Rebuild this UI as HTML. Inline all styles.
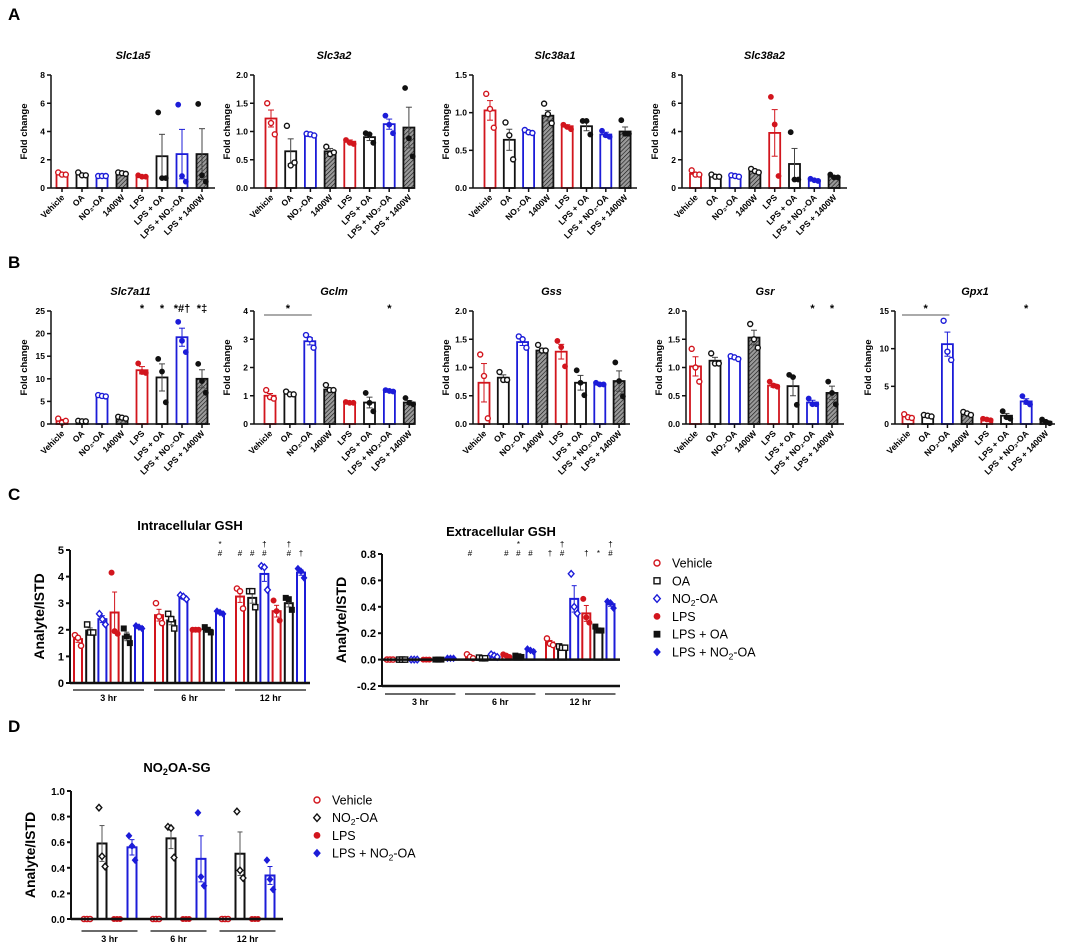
<!DOCTYPE html>
<html><head><meta charset="utf-8">
<style>
html,body{margin:0;padding:0;background:#fff;}
svg{display:block;font-family:"Liberation Sans",Arial,sans-serif;}
.t{font-weight:bold;}
</style></head>
<body>
<svg id="fig" width="1065" height="943" viewBox="0 0 1065 943" xmlns="http://www.w3.org/2000/svg">
<defs>
<pattern id="hatch" width="3" height="3" patternUnits="userSpaceOnUse" patternTransform="rotate(45)">
<rect width="3" height="3" fill="#9a9a9a"/><line x1="0" y1="0" x2="0" y2="3" stroke="#111" stroke-width="1.2"/>
</pattern>
</defs>
<text x="8" y="20" font-size="17" class="t">A</text>
<text x="8" y="268" font-size="17" class="t">B</text>
<text x="8" y="500" font-size="17" class="t">C</text>
<text x="8" y="732" font-size="17" class="t">D</text>
</svg>
<script>
// ---------- data ----------
const cats8 = ['Vehicle','OA','NO₂-OA','1400W','LPS','LPS + OA','LPS + NO₂-OA','LPS + 1400W'];

const slc1a5Mean = [1.0,0.95,0.85,1.05,0.8,2.25,2.4,2.4];
const slc1a5Sem  = [0.08,0.08,0.02,0.04,0.05,1.55,1.75,1.8];
const slc1a5Pts  = [[1.1,0.95,0.95],[1.1,0.9,0.9],[0.85,0.85,0.85],[1.1,1.05,1.0],[0.9,0.8,0.8],[5.35,0.7,0.7],[5.9,0.85,0.45],[5.95,0.9,0.45]];

const slc3a2Mean = [1.23,0.65,0.93,0.65,0.82,0.9,1.13,1.07];
const slc3a2Sem  = [0.15,0.22,0.02,0.05,0.03,0.06,0.09,0.36];
const slc3a2Pts  = [[1.5,1.15,0.95],[1.1,0.4,0.45],[0.96,0.95,0.93],[0.73,0.6,0.63],[0.85,0.8,0.78],[0.97,0.95,0.8],[1.28,1.12,0.97],[1.77,0.88,0.56]];

const slc38a1Mean = [1.03,0.64,0.74,0.96,0.82,0.82,0.71,0.75];
const slc38a1Sem  = [0.13,0.14,0.02,0.07,0.02,0.06,0.03,0.06];
const slc38a1Pts  = [[1.25,1.05,0.8],[0.87,0.7,0.38],[0.77,0.74,0.73],[1.12,0.98,0.86],[0.84,0.81,0.78],[0.89,0.89,0.71],[0.76,0.7,0.68],[0.9,0.72,0.72]];

const slc38a2Mean = [1.0,0.85,0.85,1.2,3.9,1.7,0.55,0.8];
const slc38a2Sem  = [0.1,0.05,0.05,0.08,1.65,1.1,0.05,0.07];
const slc38a2Pts  = [[1.25,0.95,0.95],[0.95,0.8,0.8],[0.9,0.85,0.8],[1.35,1.2,1.1],[6.45,4.5,0.85],[3.95,0.6,0.6],[0.65,0.55,0.5],[0.95,0.75,0.75]];

const slc7a11Mean = [0.7,0.6,6.2,1.4,11.9,10.3,19.2,10.0];
const slc7a11Sem  = [0.3,0.05,0.1,0.15,0.8,3.0,2.0,2.0];
const slc7a11Pts  = [[1.2,0.3,0.7],[0.7,0.6,0.6],[6.4,6.2,6.1],[1.6,1.4,1.2],[13.4,11.5,11.3],[14.4,11.6,4.8],[22.6,18.4,15.9],[13.3,9.5,6.9]];
const slc7a11Sig  = ['','','','','*','*','*#†','*‡'];

const gclmMean = [1.0,1.07,2.93,1.22,0.76,0.76,1.17,0.76];
const gclmSem  = [0.08,0.04,0.13,0.06,0.02,0.19,0.02,0.07];
const gclmPts  = [[1.2,0.95,0.9],[1.15,1.05,1.05],[3.15,3.0,2.7],[1.38,1.2,1.2],[0.78,0.75,0.75],[1.1,0.75,0.45],[1.2,1.17,1.15],[0.92,0.75,0.7]];
const gclmSig  = ['','','','','','','*',''];

const gssMean = [0.73,0.82,1.45,1.3,1.28,0.73,0.7,0.76];
const gssSem  = [0.34,0.05,0.06,0.04,0.13,0.13,0.02,0.18];
const gssPts  = [[1.23,0.85,0.1],[0.92,0.78,0.78],[1.55,1.5,1.35],[1.4,1.3,1.3],[1.47,1.36,1.02],[0.95,0.73,0.51],[0.73,0.7,0.7],[1.09,0.76,0.49]];

const gsrMean = [1.02,1.12,1.17,1.53,0.68,0.67,0.38,0.55];
const gsrSem  = [0.17,0.06,0.02,0.13,0.03,0.17,0.04,0.12];
const gsrPts  = [[1.33,1.0,0.75],[1.25,1.07,1.07],[1.2,1.18,1.15],[1.77,1.5,1.35],[0.75,0.68,0.66],[0.87,0.83,0.34],[0.45,0.35,0.35],[0.75,0.55,0.35]];
const gsrSig  = ['','','','','','','*','*'];

const gpx1Mean = [1.0,1.1,10.6,1.4,0.6,1.1,3.0,0.3];
const gpx1Sem  = [0.15,0.1,1.6,0.12,0.06,0.3,0.35,0.15];
const gpx1Pts  = [[1.3,0.9,0.8],[1.2,1.1,1.0],[13.7,9.6,8.5],[1.6,1.4,1.2],[0.7,0.6,0.5],[1.7,0.9,0.7],[3.7,2.9,2.6],[0.6,0.3,0.1]];
const gpx1Sig  = ['','','','','','','*',''];

// panel C
const timeLabels = ['3 hr','6 hr','12 hr'];
const seriesC = ['Vehicle','OA','NO₂-OA','LPS','LPS + OA','LPS + NO₂-OA'];
const intraMean = [[1.65,1.97,2.4,2.65,1.75,2.1],[2.55,2.35,3.2,2.0,2.0,2.65],[3.25,3.2,4.1,2.7,3.0,4.15]];
const intraSem  = [[0.12,0.1,0.13,0.77,0.16,0.03],[0.22,0.16,0.05,0.01,0.06,0.03],[0.22,0.2,0.28,0.22,0.14,0.1]];
const intraPts  = [
 [[1.8,1.7,1.4],[2.2,1.9,1.9],[2.6,2.4,2.2],[4.15,1.95,1.85],[2.05,1.75,1.5],[2.15,2.1,2.05]],
 [[3.0,2.5,2.25],[2.6,2.4,2.05],[3.3,3.25,3.15],[2.0,2.0,2.0],[2.1,2.0,1.9],[2.7,2.65,2.6]],
 [[3.55,3.45,2.8],[3.45,3.45,2.85],[4.4,4.35,3.5],[3.1,2.7,2.35],[3.2,3.15,2.75],[4.3,4.2,3.95]]];
const intraSig = [['','','','','',''],['','','','','','*\n#'],['#','#','†\n#','','†\n#','†']];

const extraMean = [[0.0,0.0,0.0,0.0,0.0,0.01],[0.02,0.01,0.03,0.03,0.025,0.07],[0.13,0.09,0.46,0.35,0.23,0.42]];
const extraSem  = [[0,0,0,0,0,0],[0.01,0.003,0.006,0.006,0.003,0.006],[0.015,0.005,0.1,0.06,0.01,0.016]];
const extraPts  = [
 [[0,0,0],[0,0,0],[0,0,0],[0,0,0],[0,0,0],[0.01,0.01,0.01]],
 [[0.04,0.02,0.01],[0.015,0.01,0.01],[0.04,0.03,0.02],[0.04,0.03,0.02],[0.03,0.025,0.02],[0.08,0.07,0.06]],
 [[0.16,0.12,0.11],[0.1,0.09,0.09],[0.65,0.4,0.35],[0.46,0.32,0.28],[0.25,0.22,0.22],[0.44,0.43,0.39]]];
const extraSig = [['','','','','',''],['#','','','#','*\n#','#'],['†','†\n#','','†','*','†\n#']];

// panel D
const seriesD = ['Vehicle','NO₂-OA','LPS','LPS + NO₂-OA'];
const sgMean = [[0,0.59,0,0.56],[0,0.63,0,0.47],[0,0.51,0,0.34]];
const sgSem  = [[0,0.14,0,0.06],[0,0.08,0,0.18],[0,0.17,0,0.07]];
const sgPts  = [[[0,0,0],[0.87,0.49,0.41],[0,0,0],[0.65,0.57,0.46]],
                [[0,0,0],[0.72,0.71,0.48],[0,0,0],[0.83,0.33,0.26]],
                [[0,0,0],[0.84,0.38,0.32],[0,0,0],[0.46,0.31,0.23]]];

// ---------- drawing helpers ----------
const NS='http://www.w3.org/2000/svg';
const svg=document.getElementById('fig');
const RED='#d2151d', BLUE='#1c1cd8', BLK='#111';
function mk(tag,parent){const e=document.createElementNS(NS,tag);(parent||svg).appendChild(e);return e;}
function set(e,o){for(const k in o)e.setAttribute(k,o[k]);return e;}
function ln(p,x1,y1,x2,y2,col,w){return set(mk('line',p),{x1,y1,x2,y2,stroke:col||BLK,'stroke-width':w||1.5});}
function txt(p,x,y,s,o){const t=mk('text',p);t.textContent=s;set(t,o||{});set(t,{x,y});return t;}
function fmt(v,step){return step<1?v.toFixed(step<0.5?1:1):String(Math.round(v));}
function marker(p,shape,filled,x,y,col,r){
  let m;
  if(shape==='circle'){m=set(mk('circle',p),{cx:x,cy:y,r:r});}
  else if(shape==='square'){m=set(mk('rect',p),{x:x-r,y:y-r,width:2*r,height:2*r});}
  else {m=set(mk('polygon',p),{points:`${x},${y-r*1.25} ${x+r*1.1},${y} ${x},${y+r*1.25} ${x-r*1.1},${y}`});}
  set(m,{fill:filled?col:'#fff',stroke:col,'stroke-width':filled?0.8:1.4});
  return m;
}
const colors8=[RED,BLK,BLUE,BLK,RED,BLK,BLUE,BLK];
const hatch8=[0,0,0,1,0,0,0,1];
const filled8=[0,0,0,0,1,1,1,1];
const jit=[-3.8,0,3.8];

function foldChart(c,mean,sem,pts,sig){
  const g=mk('g');
  
  
  const y=v=>c.y0-v/c.max*(c.y0-c.yTop);
  const xc=i=>c.first+i*c.step;
  const bw=11;
  const title=txt(g,(c.ax+c.x1)/2,c.ty,c.title,{'font-size':11,'font-weight':'bold','font-style':'italic','text-anchor':'middle'});
  
  
  const yl=txt(g,0,0,'Fold change',{'font-size':9.5,'font-weight':'bold','text-anchor':'middle',transform:`translate(${c.ax-24},${(c.y0+c.yTop)/2}) rotate(-90)`});
  
  
  for(let v=0;v<=c.max+1e-9;v+=c.tstep){
    ln(g,c.ax-4,y(v),c.ax,y(v));
    txt(g,c.ax-6,y(v)+3,fmt(v,c.tstep),{'font-size':8.5,'font-weight':'bold','text-anchor':'end'});
  }
  mean.forEach((m,i)=>{
    const col=colors8[i], x=xc(i);
    const b=set(mk('rect',g),{x:x-bw/2,y:y(m),width:bw,height:c.y0-y(m),fill:hatch8[i]?'url(#hatch)':'#fff',stroke:col,'stroke-width':1.8});
    
    
    const eb=col===BLK?'#444':col;
    ln(g,x,y(m+sem[i]),x,y(Math.max(0,m-sem[i])),eb,1);
    ln(g,x-3,y(m+sem[i]),x+3,y(m+sem[i]),eb,1);
    ln(g,x-3,y(Math.max(0,m-sem[i])),x+3,y(Math.max(0,m-sem[i])),eb,1);
    pts[i].forEach((p,k)=>marker(g,'circle',filled8[i],x+jit[k],y(p),col,2.5));
    ln(g,x,c.y0,x,c.y0+4);
    const lab=txt(g,0,0,cats8[i],{'font-size':8.5,'font-weight':'bold','text-anchor':'end',transform:`translate(${x+3},${c.y0+10}) rotate(-45)`});
    
    
    if(sig&&sig[i]) txt(g,x,c.yTop+1,sig[i],{'font-size':11,'font-weight':'bold','text-anchor':'middle'});
  });
  ln(g,c.ax,c.yTop,c.ax,c.y0);
  ln(g,c.ax,c.y0,c.x1,c.y0);
  if(c.bracket){
    const b=c.bracket;
    ln(g,xc(b[0])-6,c.yTop+4,xc(b[1])+2,c.yTop+4,'#555',1);
    txt(g,(xc(b[0])+xc(b[1]))/2-2,c.yTop+1,'*',{'font-size':11,'font-weight':'bold','text-anchor':'middle'});
  }
}
const A={yTop:75,y0:188,ty:59}, B={yTop:311,y0:424,ty:295};
foldChart({name:'slc1a5',title:'Slc1a5',ax:51,x1:215,first:62,step:20,max:8,tstep:2,...A},slc1a5Mean,slc1a5Sem,slc1a5Pts);
foldChart({name:'slc3a2',title:'Slc3a2',ax:254,x1:414,first:271,step:19.7,max:2,tstep:0.5,...A},slc3a2Mean,slc3a2Sem,slc3a2Pts);
foldChart({name:'slc38a1',title:'Slc38a1',ax:473,x1:637,first:490,step:19.3,max:1.5,tstep:0.5,...A},slc38a1Mean,slc38a1Sem,slc38a1Pts);
foldChart({name:'slc38a2',title:'Slc38a2',ax:682,x1:847,first:695.5,step:19.8,max:8,tstep:2,...A},slc38a2Mean,slc38a2Sem,slc38a2Pts);
foldChart({name:'slc7a11',title:'Slc7a11',ax:51,x1:210,first:62,step:20,max:25,tstep:5,...B},slc7a11Mean,slc7a11Sem,slc7a11Pts,slc7a11Sig);
foldChart({name:'gclm',title:'Gclm',ax:254,x1:414,first:270,step:19.9,max:4,tstep:1,bracket:[0,2],...B},gclmMean,gclmSem,gclmPts,gclmSig);
foldChart({name:'gss',title:'Gss',ax:473,x1:630,first:484,step:19.3,max:2,tstep:0.5,...B},gssMean,gssSem,gssPts);
foldChart({name:'gsr',title:'Gsr',ax:686,x1:844,first:695.5,step:19.5,max:2,tstep:0.5,...B},gsrMean,gsrSem,gsrPts,gsrSig);
foldChart({name:'gpx1',title:'Gpx1',ax:895,x1:1055,first:908,step:19.7,max:15,tstep:5,bracket:[0,2],...B},gpx1Mean,gpx1Sem,gpx1Pts,gpx1Sig);

// ---------- grouped time charts ----------
const shapesC=['circle','square','diamond','circle','square','diamond'];
const colC=[RED,BLK,BLUE,RED,BLK,BLUE];
const fillC=[0,0,0,1,1,1];
function timeChart(c,mean,sem,pts,sig,shapes,cols,fills){
  const g=mk('g');
  
  
  const y=v=>c.yBot-(v-c.min)/(c.max-c.min)*(c.yBot-c.yTop);
  const title=txt(g,(c.ax+c.x1)/2,c.ty,c.title,{'font-size':13,'font-weight':'bold','text-anchor':'middle'});
  
  
  if(c.sub){title.textContent='';const a=mk('tspan',title);a.textContent='NO';const s=mk('tspan',title);s.textContent='2';set(s,{'font-size':9,dy:3});const r=mk('tspan',title);r.textContent='OA-SG';set(r,{dy:-3});}
  const yl=txt(g,0,0,'Analyte/ISTD',{'font-size':c.yls,'font-weight':'bold','text-anchor':'middle',transform:`translate(${c.ax-c.ylo},${(c.yBot+c.yTop)/2}) rotate(-90)`});
  
  
  for(let k=0;k<c.ticks.length;k++){
    const v=c.ticks[k];
    ln(g,c.ax-4,y(v),c.ax,y(v),BLK,2);
    txt(g,c.ax-6,y(v)+4,c.tickLabels[k],{'font-size':c.tls,'font-weight':'bold','text-anchor':'end'});
  }
  const bw=c.bw;
  mean.forEach((grp,gi)=>{
    grp.forEach((m,si)=>{
      const x=c.first+gi*c.gstep+si*c.step, col=cols[si];
      if(m>0){
        const b=set(mk('rect',g),{x:x-bw/2,y:y(m),width:bw,height:y(0)-y(m),fill:'#fff',stroke:col,'stroke-width':2});
        
        
        const e=sem[gi][si], eb=col===BLK?'#555':col;
        if(e>0){ln(g,x,y(m+e),x,y(m-e),eb,1);ln(g,x-2.5,y(m+e),x+2.5,y(m+e),eb,1);ln(g,x-2.5,y(m-e),x+2.5,y(m-e),eb,1);}
      }
      pts[gi][si].forEach((p,k)=>marker(g,shapes[si],fills[si],x+jit[k]*0.8,y(p),col,2.6));
      if(sig&&sig[gi][si]){
        const parts=sig[gi][si].split('\n');
        if(parts.length===2){txt(g,x,c.sigY-6,parts[0],{'font-size':8,'text-anchor':'middle'});txt(g,x,c.sigY+3,parts[1],{'font-size':8,'text-anchor':'middle'});}
        else txt(g,x,c.sigY+3,parts[0],{'font-size':8,'text-anchor':'middle'});
      }
    });
    const gx0=c.first+gi*c.gstep-c.bw/2-1, gx1=c.first+gi*c.gstep+(grp.length-1)*c.step+c.bw/2+1;
    const gl=ln(g,gx0,c.gy,gx1,c.gy,BLK,1.3);
    
    
    txt(g,(gx0+gx1)/2,c.gy+11,timeLabels[gi],{'font-size':9,'font-weight':'bold','text-anchor':'middle'});
  });
  ln(g,c.ax,c.yTop,c.ax,c.yBot,BLK,2);
  ln(g,c.ax,c.yBot,c.x1,c.yBot,BLK,2.5);
  if(c.min<0) ln(g,c.ax,y(0),c.x1,y(0),BLK,2.5);
}
timeChart({name:'intracellular-gsh',title:'Intracellular GSH',ax:70,x1:310,yTop:550,yBot:683,min:0,max:5,ticks:[0,1,2,3,4,5],tickLabels:['0','1','2','3','4','5'],first:78,step:12.2,gstep:81,bw:8,ty:530,yls:14,ylo:26,tls:11,gy:690,sigY:553},
  intraMean,intraSem,intraPts,intraSig,shapesC,colC,fillC);
timeChart({name:'extracellular-gsh',title:'Extracellular GSH',ax:382,x1:620,yTop:554,yBot:686,min:-0.2,max:0.8,ticks:[-0.2,0,0.2,0.4,0.6,0.8],tickLabels:['-0.2','0.0','0.2','0.4','0.6','0.8'],first:390,step:12.1,gstep:80,bw:8,ty:536,yls:14,ylo:36,tls:11,gy:694,sigY:553},
  extraMean,extraSem,extraPts,extraSig,shapesC,colC,fillC);
timeChart({name:'no2oa-sg',title:'NO2OA-SG',sub:true,ax:71,x1:283,yTop:791,yBot:919,min:0,max:1,ticks:[0,0.2,0.4,0.6,0.8,1.0],tickLabels:['0.0','0.2','0.4','0.6','0.8','1.0'],first:87,step:15,gstep:69,bw:9,ty:772,yls:14,ylo:36,tls:10,gy:931,sigY:0},
  sgMean,sgSem,sgPts,null,['circle','diamond','circle','diamond'],[RED,BLK,RED,BLUE],[0,0,1,1]);

// ---------- legends ----------
function legend(name,x,y0,dy,labels,shapes,cols,fills){
  const g=mk('g');
  
  
  labels.forEach((l,i)=>{
    const y=y0+i*dy;
    marker(g,shapes[i],fills[i],x,y,cols[i],3);
    const t=txt(g,x+15,y+4.5,'',{'font-size':12.5});
    
    
    const parts=l.split('₂');
    parts.forEach((p,k)=>{const s=mk('tspan',t);s.textContent=p;if(k>0)set(s,{dy:-3});if(k<parts.length-1){const sb=mk('tspan',t);sb.textContent='2';set(sb,{'font-size':8.5,dy:3});}});
  });
}
legend('legend-c',657,563,17.8,seriesC,shapesC,colC,fillC);
legend('legend-d',317,800,17.7,seriesD,['circle','diamond','circle','diamond'],[RED,BLK,RED,BLUE],[0,0,1,1]);
</script>
</body></html>
